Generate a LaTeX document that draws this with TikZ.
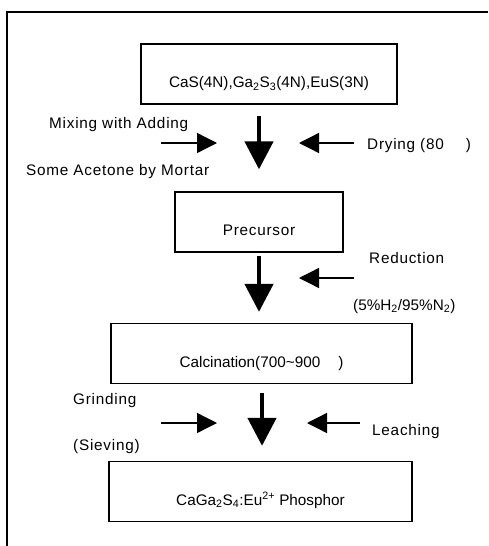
\documentclass[tikz,border=0pt]{standalone}
\usepackage{fontspec}
\setmainfont{Liberation Sans}
\newfontfamily\spacedfont[LetterSpace=5]{Liberation Sans}
\usetikzlibrary{arrows.meta}

\begin{document}
\begin{tikzpicture}[x=1pt,y=-1pt,
  font=\fontsize{15.3}{18}\selectfont,
  stepbox/.style={draw,line width=1.3pt,inner xsep=0pt,inner ysep=0pt,text height=43.5pt,text depth=16.5pt},
  bigflow/.style={line width=4.5pt,-{Triangle[width=28pt,length=28pt]}},
  sideflow/.style={line width=1.3pt,-{Triangle[width=20pt,length=20pt]}},
  note/.style={anchor=base west,inner sep=0pt,font=\fontsize{15.3}{18}\spacedfont}]
\useasboundingbox (0,0) rectangle (488,546);

%Frame
\draw [line width=1.5pt] (7,546) -- (7,12) -- (488,12) ;

% Boxes
\node [stepbox,minimum width=256pt] (raw) at (269,74) {CaS(4N),Ga\textsubscript{2}S\textsubscript{3}(4N),EuS(3N)};
\node [stepbox,minimum width=168pt,font=\fontsize{15.3}{18}\spacedfont] (pre) at (259,222) {Precursor};
\node [stepbox,minimum width=301pt] (cal) at (261.5,353.5) {Calcination(700\textasciitilde 900\hspace{18pt})};
\node [stepbox,minimum width=303pt] (pho) at (260.5,491.5) {CaGa\textsubscript{2}S\textsubscript{4}:Eu\textsuperscript{2+} Phosphor};

% Main arrows
\draw [bigflow] ([xshift=-10pt,yshift=-11pt]raw.south) -- ([yshift=22pt]pre.north) ;
\draw [bigflow] ([yshift=-3pt]pre.south) -- ([yshift=11pt,xshift=-2.5pt]cal.north) ;
\draw [bigflow] ([yshift=-9pt,xshift=0.5pt]cal.south) -- ([yshift=15pt,xshift=1.5pt]pho.north) ;

% Side arrows
\coordinate (mixA) at (161,143) ;
\coordinate (mixB) at (217,143) ;
\coordinate (dryA) at (354,143) ;
\coordinate (dryB) at (299,143) ;
\coordinate (redA) at (354,278) ;
\coordinate (redB) at (299,278) ;
\coordinate (griA) at (161,423) ;
\coordinate (griB) at (217,423) ;
\coordinate (leaA) at (360,423) ;
\coordinate (leaB) at (307,423) ;
\draw [sideflow] (mixA) -- (mixB) ;
\draw [sideflow] (dryA) -- (dryB) ;
\draw [sideflow] (redA) -- (redB) ;
\draw [sideflow] (griA) -- (griB) ;
\draw [sideflow] (leaA) -- (leaB) ;

% Text Node
\node [note] (mix) at (49,128.5) {Mixing with Adding};
\node [note] (ace) at (26,175) {Some Acetone by Mortar};
\node [note] (dry) at (367,149) {Drying (80\hspace{22pt})};
\node [note] (red) at (369,263) {Reduction};
\node [note,font=\fontsize{15.3}{18}\selectfont] (gas) at (353,310) {(5\%H\textsubscript{2}/95\%N\textsubscript{2})};
\node [note] (gri) at (73,404) {Grinding};
\node [note] (sie) at (73,450) {(Sieving)};
\node [note] (lea) at (372,435) {Leaching};
\end{tikzpicture}
\end{document}
